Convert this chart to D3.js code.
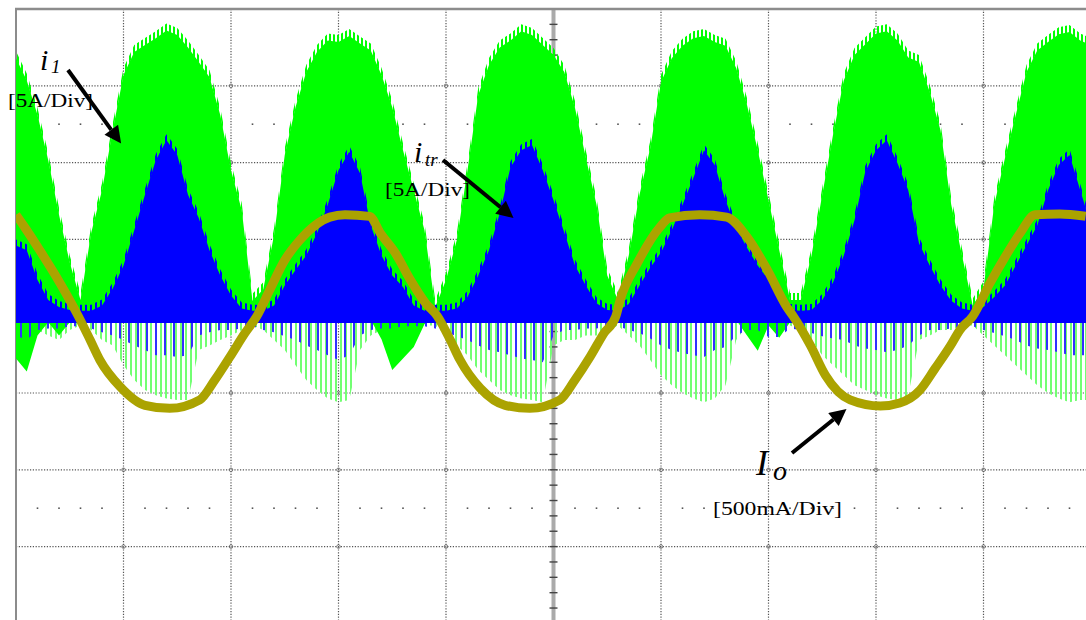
<!DOCTYPE html>
<html>
<head>
<meta charset="utf-8">
<script src="https://cdn.jsdelivr.net/npm/d3@7"></script>
<style>
  body { margin: 0; background: #fff; }
  svg { display: block; }
  .lbl { font-family: "Liberation Serif", "DejaVu Serif", serif; fill: #000; }
</style>
</head>
<body>
<div class="chart"></div>
<script>
// scope screen: 10 horizontal divisions, 8 vertical divisions (values below are in divisions)
// traces sampled every 0.1 div
const sampleT = d3.range(0, 101).map(i => i / 10);

// i1 (green) upper envelope
const greenTop = [
  3.36,3.07,2.62,2.03,1.32,0.70,0.21,1.09,1.64,2.42,
  3.14,3.44,3.53,3.62,3.72,3.66,3.50,3.31,3.11,2.62,
  1.90,1.38,0.20,0.35,1.05,2.10,2.72,3.18,3.44,3.59,
  3.57,3.65,3.55,3.46,3.14,2.72,2.16,1.64,1.12,0.12,
  0.47,0.99,1.90,2.88,3.27,3.50,3.59,3.71,3.66,3.53,
  3.40,3.18,2.71,2.07,1.45,0.53,0.21,0.79,1.58,2.19,
  3.05,3.36,3.52,3.62,3.65,3.57,3.52,3.23,2.75,2.16,
  1.51,0.86,0.21,0.21,0.79,1.58,2.36,3.07,3.40,3.54,
  3.68,3.71,3.59,3.37,3.31,2.92,2.42,1.45,0.79,0.14,
  0.36,1.45,2.06,2.62,3.18,3.46,3.57,3.67,3.70,3.59,
  3.53];

// i1 solid lower edge (blobs below zero)
const greenLow = [
  -0.55,-0.72,-0.25,-0.08,-0.25,-0.08,-0.05,-0.05,-0.05,-0.05,
  -0.05,-0.05,-0.05,-0.05,-0.05,-0.05,-0.05,-0.05,-0.05,-0.05,
  -0.05,-0.05,-0.05,-0.05,-0.05,-0.05,-0.05,-0.05,-0.05,-0.05,
  -0.05,-0.05,-0.05,-0.05,-0.30,-0.70,-0.55,-0.40,-0.10,-0.05,
  -0.05,-0.05,-0.05,-0.05,-0.05,-0.05,-0.05,-0.05,-0.05,-0.05,
  -0.05,-0.05,-0.05,-0.05,-0.05,-0.05,-0.05,-0.05,-0.05,-0.05,
  -0.05,-0.05,-0.05,-0.05,-0.05,-0.05,-0.05,-0.05,-0.25,-0.45,
  -0.12,-0.28,-0.08,-0.05,-0.05,-0.05,-0.05,-0.05,-0.05,-0.05,
  -0.05,-0.05,-0.05,-0.05,-0.05,-0.05,-0.05,-0.05,-0.05,-0.05,
  -0.05,-0.05,-0.05,-0.05,-0.05,-0.05,-0.05,-0.05,-0.05,-0.05,
  -0.05];

// i1 switching spikes, deepest reach
const greenSpike = [
  -0.18,-0.18,-0.18,-0.25,-0.31,-0.18,-0.12,
  -0.18,-0.31,-0.38,-0.64,-0.83,-0.96,-1.03,-1.07,-1.09,-1.09,
  -0.44,-0.38,-0.31,-0.25,-0.18,-0.12,
  -0.18,-0.31,-0.44,-0.64,-0.83,-0.96,-1.07,-1.12,-1.09,
  -0.44,-0.25,-0.18,-0.12,-0.12,-0.12,-0.12,
  -0.12,-0.25,-0.38,-0.51,-0.70,-0.83,-0.96,-1.03,-1.07,-1.09,-1.12,
  -0.38,-0.31,-0.31,-0.25,-0.25,-0.18,-0.12,
  -0.25,-0.38,-0.57,-0.77,-0.90,-1.00,-1.07,-1.12,-1.07,-0.90,-0.31,
  -0.12,-0.12,-0.12,-0.12,-0.12,
  -0.18,-0.31,-0.51,-0.64,-0.77,-0.90,-0.96,-1.03,-1.07,-1.09,-1.03,-0.31,-0.25,-0.18,-0.18,-0.12,-0.12,
  -0.25,-0.38,-0.51,-0.64,-0.77,-0.90,-1.00,-1.07,-1.12,-1.09,-1.09];

// itr (blue) upper envelope
const blueTop = [
  0.92,0.86,0.47,0.21,0.12,0.08,0.07,0.07,0.14,0.36,
  0.66,1.12,1.58,2.03,2.29,2.10,1.58,1.28,0.86,0.53,
  0.27,0.10,0.07,0.07,0.14,0.40,0.60,0.79,1.08,1.45,
  1.90,2.14,1.86,1.18,0.79,0.53,0.38,0.14,0.07,0.07,
  0.07,0.10,0.25,0.53,0.86,1.34,1.94,2.16,2.23,1.90,
  1.51,1.09,0.66,0.40,0.17,0.08,0.07,0.16,0.40,0.63,
  0.83,1.12,1.45,1.80,2.16,1.97,1.51,1.15,0.89,0.66,
  0.47,0.23,0.08,0.07,0.08,0.21,0.44,0.79,1.25,1.88,
  2.16,2.29,1.99,1.64,0.95,0.66,0.40,0.20,0.10,0.07,
  0.12,0.25,0.40,0.66,0.92,1.18,1.64,1.97,2.10,1.64,
  1.18];
const blueFloor = -0.09;

// itr switching spikes below the band
const blueSpike = [
  -0.25,-0.31,-0.18,-0.16,-0.16,-0.13,-0.13,
  -0.16,-0.21,-0.25,-0.31,-0.38,-0.44,-0.51,-0.51,-0.53,-0.51,
  -0.25,-0.21,-0.18,-0.18,-0.16,-0.13,
  -0.18,-0.21,-0.26,-0.31,-0.38,-0.44,-0.51,-0.57,-0.51,
  -0.25,-0.18,-0.16,-0.16,-0.13,-0.13,-0.13,
  -0.16,-0.21,-0.26,-0.31,-0.38,-0.44,-0.47,-0.51,-0.55,-0.57,-0.60,
  -0.25,-0.18,-0.18,-0.16,-0.16,-0.13,-0.13,
  -0.18,-0.22,-0.29,-0.38,-0.44,-0.48,-0.51,-0.53,-0.44,-0.40,
  -0.25,-0.18,-0.18,-0.27,-0.27,-0.16,
  -0.18,-0.22,-0.26,-0.29,-0.31,-0.38,-0.42,-0.44,-0.47,-0.44,-0.38,
  -0.25,-0.18,-0.18,-0.16,-0.13,-0.13,
  -0.18,-0.22,-0.26,-0.31,-0.38,-0.42,-0.44,-0.47,-0.51,-0.51,-0.51];

// Io (olive) trace
const ioT = [0,0.08,0.22,0.41,0.58,0.69,0.78,0.97,1.20,1.43,1.71,1.85,1.99,2.13,2.24,
  2.36,2.50,2.64,2.78,2.92,3.06,3.29,3.39,3.53,3.67,3.81,3.92,
  4.04,4.13,4.32,4.55,4.78,5.06,5.20,5.34,5.47,5.58,
  5.62,5.78,5.99,6.08,6.36,6.61,6.80,6.99,7.17,7.23,
  7.39,7.53,7.76,8.04,8.22,8.41,8.55,8.69,8.78,8.90,
  9.06,9.20,9.34,9.48,9.71,9.95];
const ioV = [1.32,1.16,0.86,0.43,0,-0.31,-0.57,-0.92,-1.16,-1.20,-1.09,-0.83,-0.53,-0.22,0,
  0.34,0.73,0.99,1.18,1.29,1.32,1.30,1.08,0.82,0.47,0.17,0,
  -0.31,-0.57,-0.94,-1.16,-1.20,-1.09,-0.83,-0.53,-0.22,0,
  0.21,0.69,1.16,1.28,1.32,1.29,1.03,0.60,0.12,0,
  -0.38,-0.77,-1.09,-1.17,-1.13,-0.96,-0.68,-0.39,-0.18,0,
  0.43,0.77,1.08,1.32,1.33,1.30];

const W = 1086, H = 620;
const x = d3.scaleLinear().domain([0, 10]).range([16, 1091]);
const y = d3.scaleLinear().domain([-4, 4]).range([623.4, 9]);

const svg = d3.select(".chart").append("svg")
    .attr("width", W)
    .attr("height", H);

const defs = svg.append("defs");
defs.append("clipPath").attr("id", "screen")
  .append("rect").attr("x", 16).attr("y", 9).attr("width", W - 16).attr("height", H - 9);

function stripes(id, w, bar, color, off) {
  defs.append("pattern").attr("id", id)
      .attr("patternUnits", "userSpaceOnUse").attr("x", off).attr("width", w).attr("height", 8)
    .append("rect").attr("width", bar).attr("height", 8).attr("fill", color);
}
stripes("gcomb", 5, 2, "#72ff72", 0);
stripes("bcomb", 9, 2, "#3030ff", 2);
stripes("gtooth", 4, 2, "#00ff00", 1);
stripes("btooth", 5, 2, "#0000ff", 0);

defs.append("marker").attr("id", "head")
    .attr("viewBox", "0 0 10 10").attr("refX", 0).attr("refY", 5)
    .attr("markerWidth", 5).attr("markerHeight", 4.2)
    .attr("orient", "auto").attr("markerUnits", "strokeWidth")
  .append("path").attr("d", "M0,0 L10,5 L0,10 z").attr("fill", "#000");

// ---- graticule
const grid = svg.append("g");
const majorT = [1, 2, 3, 4, 6, 7, 8, 9];
const majorV = [3, 2, 1, -1, -2, -3];
const minorK = d3.range(1, 50).filter(k => k % 5 != 0);

grid.selectAll(".vg").data(majorT).enter().append("line")
    .attr("x1", d => x(d)).attr("x2", d => x(d))
    .attr("y1", y(4)).attr("y2", H)
    .attr("stroke", "#555").attr("stroke-width", 1.2).attr("stroke-dasharray", "1.2,1.6");

grid.selectAll(".hg").data(majorV).enter().append("line")
    .attr("x1", x(0)).attr("x2", W)
    .attr("y1", d => y(d)).attr("y2", d => y(d))
    .attr("stroke", "#555").attr("stroke-width", 1.2).attr("stroke-dasharray", "1.2,1.6");

// sparse dot rows
[2.5, -2.5].forEach(v => {
  grid.selectAll(null).data(minorK).enter().append("rect")
      .attr("x", k => x(k / 5) - 0.8).attr("y", y(v) - 0.8)
      .attr("width", 1.6).attr("height", 1.6).attr("fill", "#555");
});

// small rings at crossings
const cross = [];
majorT.forEach(t => majorV.forEach(v => cross.push([t, v])));
grid.selectAll(".ring").data(cross).enter().append("circle")
    .attr("cx", d => x(d[0])).attr("cy", d => y(d[1])).attr("r", 1.8)
    .attr("fill", "none").attr("stroke", "#666").attr("stroke-width", 0.8);

// centre axes with ticks
grid.append("line")
    .attr("x1", x(5)).attr("x2", x(5)).attr("y1", y(4)).attr("y2", H)
    .attr("stroke", "#aaa").attr("stroke-width", 4);
grid.selectAll(".vt").data(d3.range(-19, 20).map(k => k / 5)).enter().append("line")
    .attr("x1", x(5) - 4).attr("x2", x(5) + 4)
    .attr("y1", d => y(d)).attr("y2", d => y(d))
    .attr("stroke", "#444").attr("stroke-width", 1.4);
grid.append("line")
    .attr("x1", x(0)).attr("x2", W).attr("y1", y(0)).attr("y2", y(0))
    .attr("stroke", "#aaa").attr("stroke-width", 4);

// border
grid.append("line").attr("x1", x(0)).attr("x2", x(0)).attr("y1", y(4)).attr("y2", H)
    .attr("stroke", "#8c8c8c").attr("stroke-width", 2);
grid.append("line").attr("x1", x(0) - 1).attr("x2", W).attr("y1", y(4)).attr("y2", y(4))
    .attr("stroke", "#8c8c8c").attr("stroke-width", 2.4);

// ---- traces
const traces = svg.append("g").attr("clip-path", "url(#screen)");
const idx = sampleT.map((t, i) => i);

const area = (lo, hi) => d3.area()
    .x(i => x(sampleT[i]))
    .y0(i => y(typeof lo === "number" ? lo : lo[i]))
    .y1(i => y(hi[i]));
// thin band of switching teeth just above an envelope
const teeth = (hi, px) => d3.area()
    .x(i => x(sampleT[i]))
    .y0(i => y(hi[i]) + 1)
    .y1(i => y(hi[i]) - px);

traces.append("path").datum(idx)
    .attr("d", area(0, greenSpike))
    .attr("fill", "url(#gcomb)");

traces.append("path").datum(idx)
    .attr("d", area(greenLow, greenTop))
    .attr("fill", "#00ff00");
traces.append("path").datum(idx)
    .attr("d", teeth(greenTop, 7))
    .attr("fill", "url(#gtooth)");

traces.append("path").datum(idx)
    .attr("d", area(0, blueSpike))
    .attr("fill", "url(#bcomb)");

traces.append("path").datum(idx)
    .attr("d", area(blueFloor, blueTop))
    .attr("fill", "#0000ff");
traces.append("path").datum(idx)
    .attr("d", teeth(blueTop, 6))
    .attr("fill", "url(#btooth)");

const ioLine = d3.line()
    .x((t, i) => x(t))
    .y((t, i) => y(ioV[i]))
    .curve(d3.curveMonotoneX);

traces.append("path").datum(ioT)
    .attr("d", ioLine)
    .attr("fill", "none")
    .attr("stroke", "#aba300")
    .attr("stroke-width", 9);

// ---- annotations (pixel positions)
const arrows = [
  {from: [68, 70], to: [123, 146]},
  {from: [443, 160], to: [516, 220]},
  {from: [792, 453], to: [849, 407]}
];
arrows.forEach(a => {
  const dx = a.to[0] - a.from[0], dy = a.to[1] - a.from[1];
  const len = Math.hypot(dx, dy);
  const ex = a.to[0] - dx / len * 20, ey = a.to[1] - dy / len * 20;
  svg.append("line")
      .attr("x1", a.from[0]).attr("y1", a.from[1])
      .attr("x2", ex).attr("y2", ey)
      .attr("stroke", "#000").attr("stroke-width", 4)
      .attr("marker-end", "url(#head)");
});

function label(px, py, main, sub, size, subSize, subDx, subDy) {
  svg.append("text").attr("class", "lbl")
      .attr("x", px).attr("y", py)
      .style("font-style", "italic").style("font-size", size + "px")
      .text(main);
  svg.append("text").attr("class", "lbl")
      .attr("x", px + subDx).attr("y", py + subDy)
      .style("font-style", "italic").style("font-size", subSize + "px")
      .text(sub);
}
label(40, 70, "i", "1", 30, 19, 11, 3);
label(414, 162, "i", "tr", 30, 19, 11, 4);
label(756, 475, "I", "o", 36, 28, 17, 5);

const scales = [
  {x: 8, y: 107, w: 85, text: "[5A/Div]"},
  {x: 385, y: 196, w: 85, text: "[5A/Div]"},
  {x: 713, y: 515, w: 129, text: "[500mA/Div]"}
];
svg.selectAll(".scl").data(scales).enter().append("text")
    .attr("class", "lbl")
    .attr("x", d => d.x).attr("y", d => d.y)
    .attr("textLength", d => d.w).attr("lengthAdjust", "spacingAndGlyphs")
    .style("font-size", "18px")
    .text(d => d.text);
</script>
</body>
</html>
